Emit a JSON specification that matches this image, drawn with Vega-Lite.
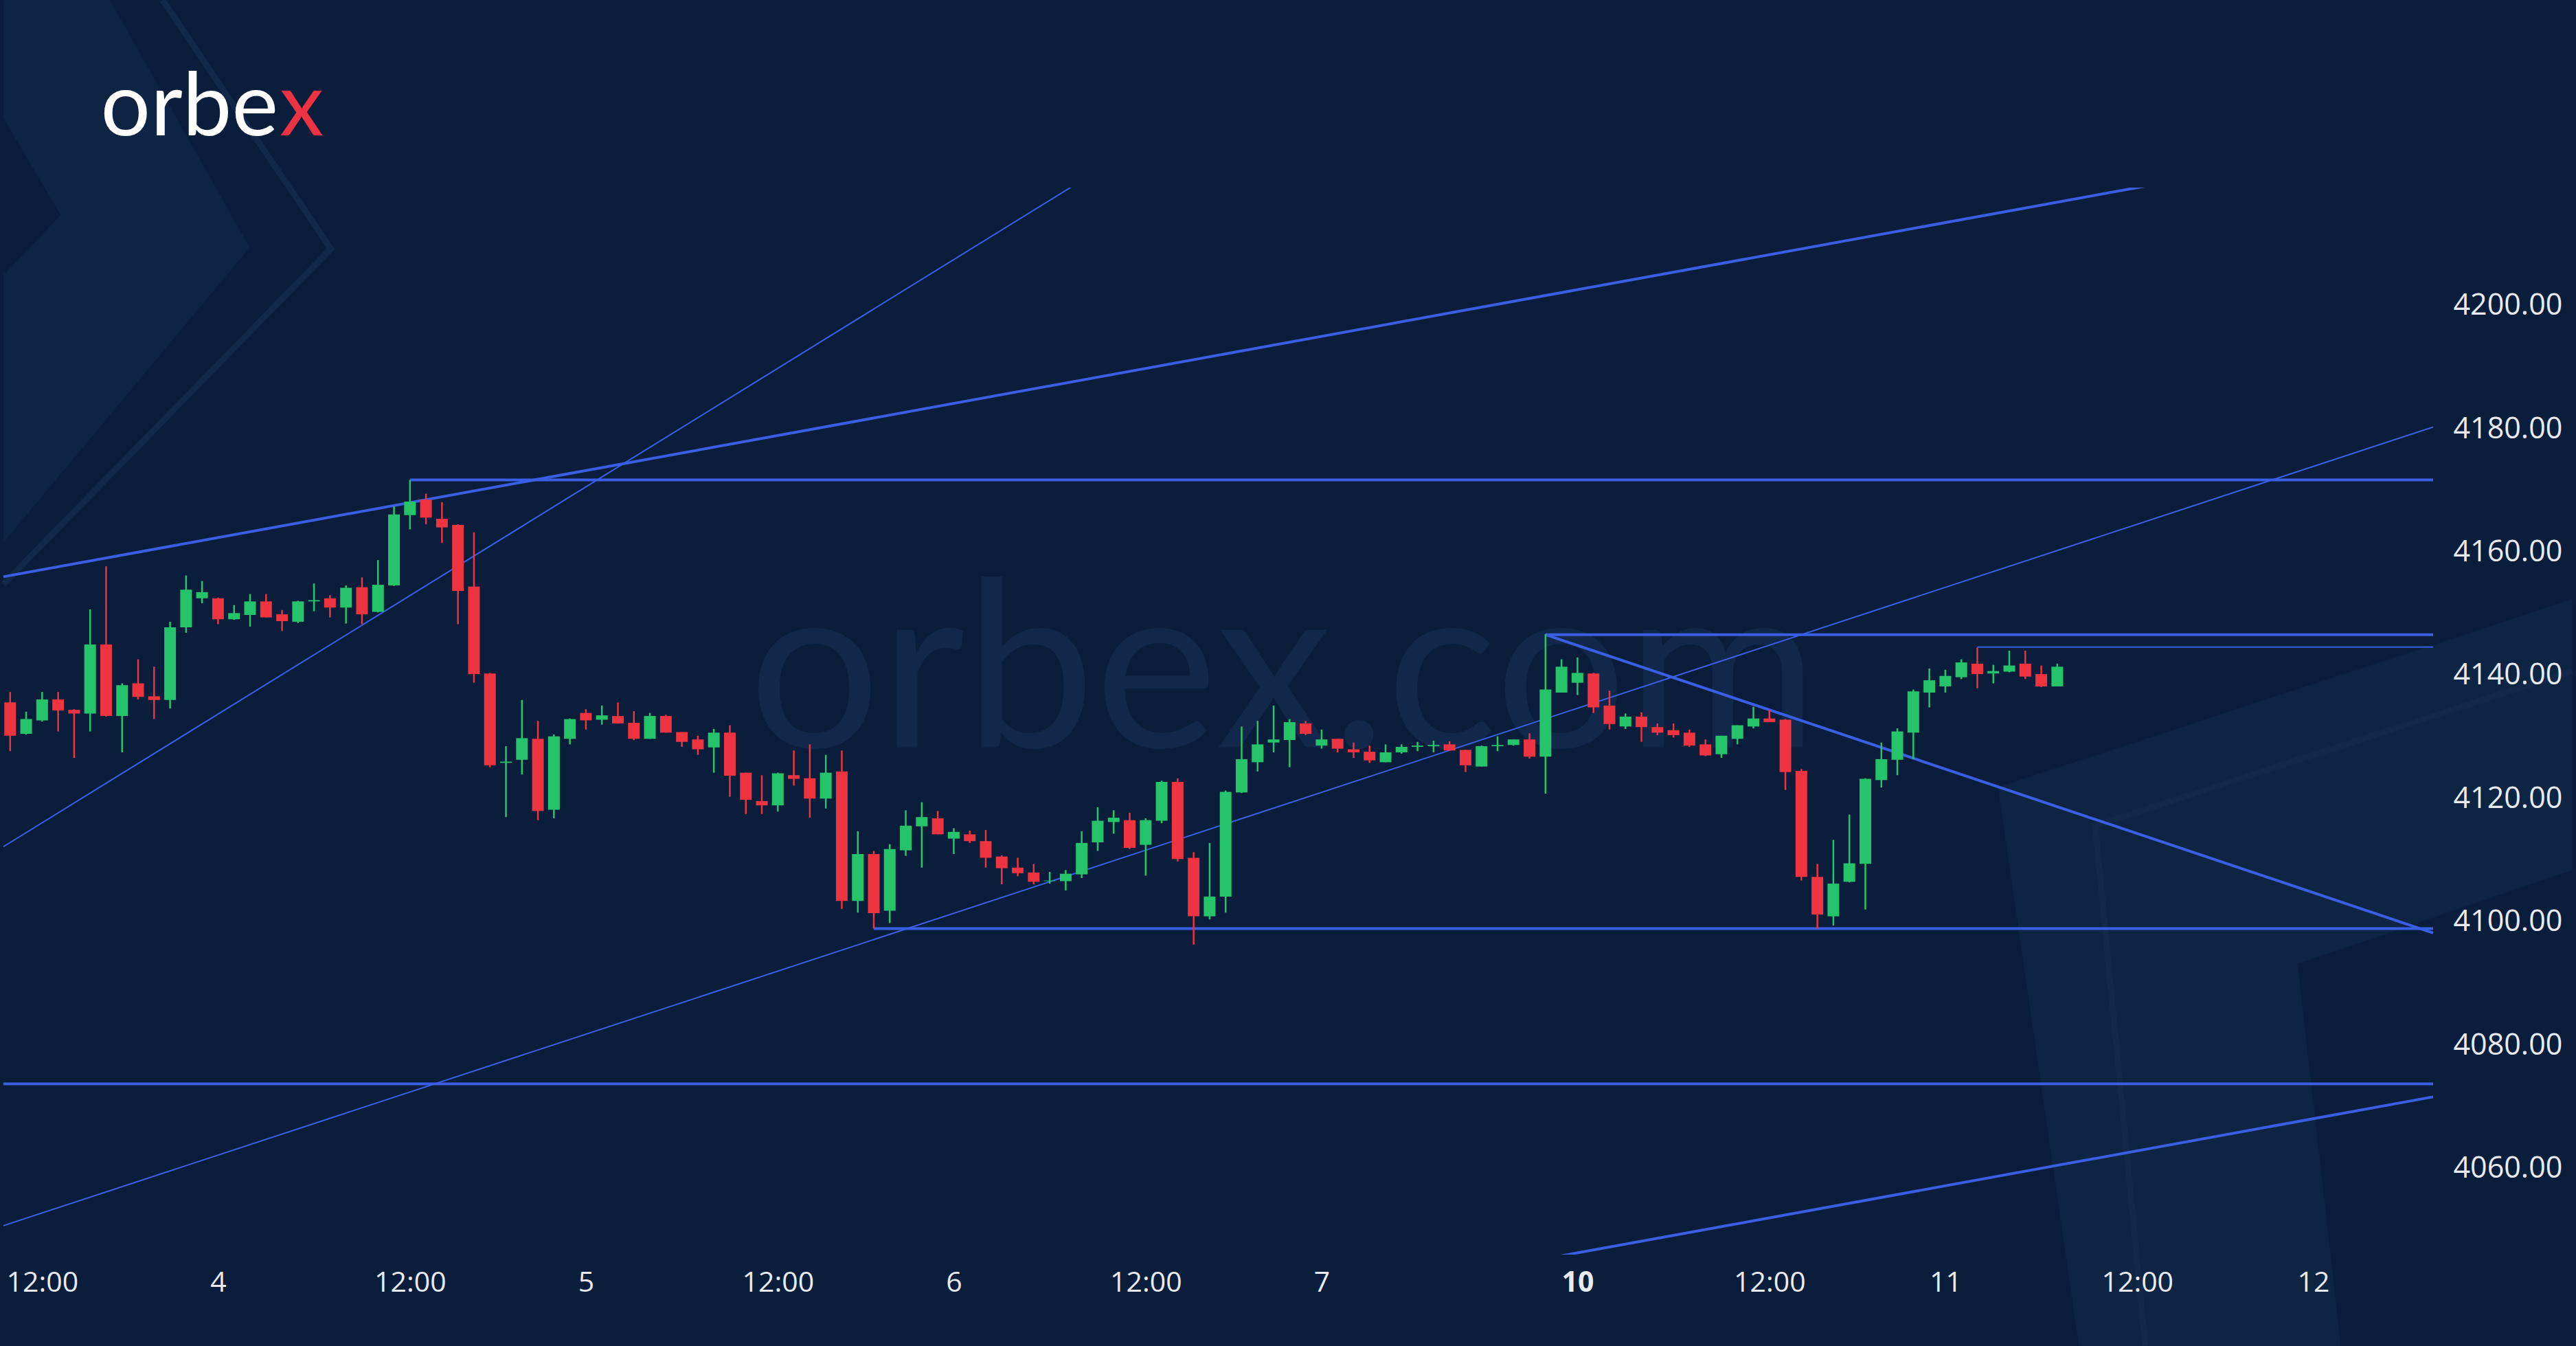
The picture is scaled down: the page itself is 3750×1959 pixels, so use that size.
{
  "$schema": "https://vega.github.io/schema/vega-lite/v6.json",
  "width": 3547,
  "height": 1553,
  "autosize": {"type": "none"},
  "padding": {"left": 0, "top": 273, "right": 203, "bottom": 133},
  "background": "#0a1e3b",
  "config": {"view": {"stroke": null}},
  "datasets": {
    "candles": [
      {"n":0,"o":4135.6,"h":4137.3,"l":4127.7,"c":4130.2},
      {"n":1,"o":4130.5,"h":4134.1,"l":4130.4,"c":4132.9},
      {"n":2,"o":4132.7,"h":4137.3,"l":4132.5,"c":4136.1},
      {"n":3,"o":4136.1,"h":4137.3,"l":4130.9,"c":4134.3},
      {"n":4,"o":4134.4,"h":4134.5,"l":4126.6,"c":4133.8},
      {"n":5,"o":4133.8,"h":4150.7,"l":4130.9,"c":4145.0},
      {"n":6,"o":4145.0,"h":4157.7,"l":4133.3,"c":4133.4},
      {"n":7,"o":4133.4,"h":4138.7,"l":4127.5,"c":4138.4},
      {"n":8,"o":4138.7,"h":4142.6,"l":4136.1,"c":4136.5},
      {"n":9,"o":4136.6,"h":4141.4,"l":4132.9,"c":4136.0},
      {"n":10,"o":4136.0,"h":4148.7,"l":4134.6,"c":4147.8},
      {"n":11,"o":4147.8,"h":4156.2,"l":4146.9,"c":4153.9},
      {"n":12,"o":4152.5,"h":4155.3,"l":4151.7,"c":4153.5},
      {"n":13,"o":4152.5,"h":4152.6,"l":4148.3,"c":4149.1},
      {"n":14,"o":4149.1,"h":4151.4,"l":4149.0,"c":4150.1},
      {"n":15,"o":4149.8,"h":4153.2,"l":4147.9,"c":4152.0},
      {"n":16,"o":4152.0,"h":4153.2,"l":4149.4,"c":4149.4},
      {"n":17,"o":4149.9,"h":4150.6,"l":4147.2,"c":4148.8},
      {"n":18,"o":4148.7,"h":4152.1,"l":4148.5,"c":4152.0},
      {"n":19,"o":4152.0,"h":4154.9,"l":4150.4,"c":4152.2},
      {"n":20,"o":4152.5,"h":4153.0,"l":4149.4,"c":4151.0},
      {"n":21,"o":4151.0,"h":4154.6,"l":4148.4,"c":4154.2},
      {"n":22,"o":4154.3,"h":4155.9,"l":4148.3,"c":4149.9},
      {"n":23,"o":4150.3,"h":4158.7,"l":4150.2,"c":4154.7},
      {"n":24,"o":4154.6,"h":4167.4,"l":4154.5,"c":4166.1},
      {"n":25,"o":4166.0,"h":4171.7,"l":4163.7,"c":4168.2},
      {"n":26,"o":4168.5,"h":4169.5,"l":4164.5,"c":4165.6},
      {"n":27,"o":4165.4,"h":4168.1,"l":4161.5,"c":4164.0},
      {"n":28,"o":4164.4,"h":4164.5,"l":4148.3,"c":4153.7},
      {"n":29,"o":4154.4,"h":4163.2,"l":4138.8,"c":4140.2},
      {"n":30,"o":4140.3,"h":4140.4,"l":4125.1,"c":4125.4},
      {"n":31,"o":4125.8,"h":4128.5,"l":4117.0,"c":4126.0},
      {"n":32,"o":4126.3,"h":4136.0,"l":4123.9,"c":4129.8},
      {"n":33,"o":4129.7,"h":4132.6,"l":4116.5,"c":4118.0},
      {"n":34,"o":4118.2,"h":4130.4,"l":4116.8,"c":4130.1},
      {"n":35,"o":4129.7,"h":4133.0,"l":4128.8,"c":4132.9},
      {"n":36,"o":4133.9,"h":4134.5,"l":4131.2,"c":4132.7},
      {"n":37,"o":4132.8,"h":4135.1,"l":4132.0,"c":4133.5},
      {"n":38,"o":4133.4,"h":4135.6,"l":4132.2,"c":4132.2},
      {"n":39,"o":4132.3,"h":4134.2,"l":4129.5,"c":4129.7},
      {"n":40,"o":4129.7,"h":4133.9,"l":4129.7,"c":4133.4},
      {"n":41,"o":4133.4,"h":4133.6,"l":4130.7,"c":4130.7},
      {"n":42,"o":4130.8,"h":4130.8,"l":4128.4,"c":4129.2},
      {"n":43,"o":4129.6,"h":4130.2,"l":4127.1,"c":4128.0},
      {"n":44,"o":4128.3,"h":4131.3,"l":4124.2,"c":4130.7},
      {"n":45,"o":4130.7,"h":4131.9,"l":4120.3,"c":4123.7},
      {"n":46,"o":4124.2,"h":4124.2,"l":4117.5,"c":4119.8},
      {"n":47,"o":4119.6,"h":4123.8,"l":4117.5,"c":4118.9},
      {"n":48,"o":4118.9,"h":4124.2,"l":4117.9,"c":4124.1},
      {"n":49,"o":4123.8,"h":4127.8,"l":4122.1,"c":4123.2},
      {"n":50,"o":4123.3,"h":4128.8,"l":4116.9,"c":4120.0},
      {"n":51,"o":4120.0,"h":4127.1,"l":4118.4,"c":4124.2},
      {"n":52,"o":4124.4,"h":4127.8,"l":4102.1,"c":4103.4},
      {"n":53,"o":4103.4,"h":4114.7,"l":4101.5,"c":4111.0},
      {"n":54,"o":4111.0,"h":4111.5,"l":4098.9,"c":4101.4},
      {"n":55,"o":4101.8,"h":4112.6,"l":4099.8,"c":4111.8},
      {"n":56,"o":4111.6,"h":4118.1,"l":4110.7,"c":4115.6},
      {"n":57,"o":4115.5,"h":4119.4,"l":4108.8,"c":4117.0},
      {"n":58,"o":4116.8,"h":4118.0,"l":4114.2,"c":4114.2},
      {"n":59,"o":4113.5,"h":4115.2,"l":4111.0,"c":4114.6},
      {"n":60,"o":4114.2,"h":4114.8,"l":4112.8,"c":4113.1},
      {"n":61,"o":4113.1,"h":4114.9,"l":4108.8,"c":4110.4},
      {"n":62,"o":4110.6,"h":4110.8,"l":4106.1,"c":4108.7},
      {"n":63,"o":4108.8,"h":4110.4,"l":4107.4,"c":4107.9},
      {"n":64,"o":4108.0,"h":4109.4,"l":4106.1,"c":4106.5},
      {"n":65,"o":4106.6,"h":4108.1,"l":4106.2,"c":4106.7},
      {"n":66,"o":4106.6,"h":4108.4,"l":4105.1,"c":4107.8},
      {"n":67,"o":4107.7,"h":4114.7,"l":4107.1,"c":4112.8},
      {"n":68,"o":4112.9,"h":4118.6,"l":4111.5,"c":4116.4},
      {"n":69,"o":4116.2,"h":4118.1,"l":4114.3,"c":4116.9},
      {"n":70,"o":4116.5,"h":4117.7,"l":4111.8,"c":4112.0},
      {"n":71,"o":4112.5,"h":4116.8,"l":4107.5,"c":4116.5},
      {"n":72,"o":4116.4,"h":4122.9,"l":4116.0,"c":4122.7},
      {"n":73,"o":4122.7,"h":4123.3,"l":4109.8,"c":4110.2},
      {"n":74,"o":4110.4,"h":4111.3,"l":4096.3,"c":4100.9},
      {"n":75,"o":4100.9,"h":4112.8,"l":4100.4,"c":4104.1},
      {"n":76,"o":4104.1,"h":4121.3,"l":4101.5,"c":4121.1},
      {"n":77,"o":4121.0,"h":4131.7,"l":4120.9,"c":4126.4},
      {"n":78,"o":4125.9,"h":4132.6,"l":4124.4,"c":4128.8},
      {"n":79,"o":4129.1,"h":4135.1,"l":4127.5,"c":4129.6},
      {"n":80,"o":4129.5,"h":4132.9,"l":4125.1,"c":4132.4},
      {"n":81,"o":4132.2,"h":4132.6,"l":4130.3,"c":4130.5},
      {"n":82,"o":4128.6,"h":4131.2,"l":4128.1,"c":4129.6},
      {"n":83,"o":4129.7,"h":4129.7,"l":4127.5,"c":4128.1},
      {"n":84,"o":4128.0,"h":4129.1,"l":4126.6,"c":4127.5},
      {"n":85,"o":4127.6,"h":4128.6,"l":4125.8,"c":4126.2},
      {"n":86,"o":4125.9,"h":4128.8,"l":4125.9,"c":4127.5},
      {"n":87,"o":4127.5,"h":4128.8,"l":4127.3,"c":4128.4},
      {"n":88,"o":4128.4,"h":4129.2,"l":4127.7,"c":4128.6},
      {"n":89,"o":4128.5,"h":4129.4,"l":4127.5,"c":4128.7},
      {"n":90,"o":4128.8,"h":4129.3,"l":4127.8,"c":4127.8},
      {"n":91,"o":4127.9,"h":4127.9,"l":4124.3,"c":4125.4},
      {"n":92,"o":4125.2,"h":4128.6,"l":4125.2,"c":4128.5},
      {"n":93,"o":4128.5,"h":4130.1,"l":4127.7,"c":4128.7},
      {"n":94,"o":4128.7,"h":4129.6,"l":4128.6,"c":4129.6},
      {"n":95,"o":4129.6,"h":4130.6,"l":4126.5,"c":4126.8},
      {"n":96,"o":4126.8,"h":4146.7,"l":4120.8,"c":4137.7},
      {"n":97,"o":4137.2,"h":4142.6,"l":4137.2,"c":4141.4},
      {"n":98,"o":4138.8,"h":4142.9,"l":4136.8,"c":4140.4},
      {"n":99,"o":4140.3,"h":4140.4,"l":4133.9,"c":4134.8},
      {"n":100,"o":4135.1,"h":4137.5,"l":4131.2,"c":4132.1},
      {"n":101,"o":4131.7,"h":4133.8,"l":4131.3,"c":4133.3},
      {"n":102,"o":4133.3,"h":4134.0,"l":4129.2,"c":4131.6},
      {"n":103,"o":4131.6,"h":4132.2,"l":4130.3,"c":4130.7},
      {"n":104,"o":4131.1,"h":4132.2,"l":4129.9,"c":4130.3},
      {"n":105,"o":4130.7,"h":4131.2,"l":4128.4,"c":4128.6},
      {"n":106,"o":4128.8,"h":4129.6,"l":4126.9,"c":4127.0},
      {"n":107,"o":4127.2,"h":4130.2,"l":4126.6,"c":4130.2},
      {"n":108,"o":4129.7,"h":4131.9,"l":4128.8,"c":4131.9},
      {"n":109,"o":4131.7,"h":4134.9,"l":4131.4,"c":4133.0},
      {"n":110,"o":4133.0,"h":4134.4,"l":4132.4,"c":4132.4},
      {"n":111,"o":4132.8,"h":4132.9,"l":4121.4,"c":4124.3},
      {"n":112,"o":4124.5,"h":4124.8,"l":4106.7,"c":4107.3},
      {"n":113,"o":4107.3,"h":4109.4,"l":4098.9,"c":4101.2},
      {"n":114,"o":4100.9,"h":4113.3,"l":4099.4,"c":4106.2},
      {"n":115,"o":4106.5,"h":4117.4,"l":4106.4,"c":4109.5},
      {"n":116,"o":4109.4,"h":4123.3,"l":4102.0,"c":4123.2},
      {"n":117,"o":4123.0,"h":4129.1,"l":4121.8,"c":4126.4},
      {"n":118,"o":4126.3,"h":4131.4,"l":4123.8,"c":4130.9},
      {"n":119,"o":4130.7,"h":4137.7,"l":4126.4,"c":4137.4},
      {"n":120,"o":4137.2,"h":4141.1,"l":4134.8,"c":4139.2},
      {"n":121,"o":4138.2,"h":4140.9,"l":4137.2,"c":4139.9},
      {"n":122,"o":4139.7,"h":4142.6,"l":4139.4,"c":4142.1},
      {"n":123,"o":4141.9,"h":4144.5,"l":4137.9,"c":4140.2},
      {"n":124,"o":4140.3,"h":4141.7,"l":4138.7,"c":4140.7},
      {"n":125,"o":4140.6,"h":4144.0,"l":4140.5,"c":4141.6},
      {"n":126,"o":4141.9,"h":4144.0,"l":4139.4,"c":4139.8},
      {"n":127,"o":4140.2,"h":4141.6,"l":4138.1,"c":4138.2},
      {"n":128,"o":4138.2,"h":4141.9,"l":4138.2,"c":4141.4}
    ],
    "thick": [
      {"id":"L1","n":-0.42,"p":4156.0},{"id":"L1","n":151.5,"p":4227.9},
      {"id":"L3","n":25,"p":4171.7},{"id":"L3","n":151.5,"p":4171.7},
      {"id":"L5","n":96,"p":4146.6},{"id":"L5","n":151.5,"p":4146.6},
      {"id":"L7","n":96,"p":4146.6},{"id":"L7","n":151.5,"p":4098.2},
      {"id":"L8","n":54,"p":4098.9},{"id":"L8","n":151.5,"p":4098.9},
      {"id":"L9","n":-0.42,"p":4073.7},{"id":"L9","n":151.5,"p":4073.7},
      {"id":"L10","n":90,"p":4042.5},{"id":"L10","n":151.5,"p":4071.6}
    ],
    "thin": [
      {"id":"L2","n":-0.42,"p":4112.2},{"id":"L2","n":70,"p":4225.1},
      {"id":"L4","n":-0.42,"p":4050.7},{"id":"L4","n":151.5,"p":4180.3},
      {"id":"L6","n":123,"p":4144.6},{"id":"L6","n":151.5,"p":4144.6}
    ],
    "deco": [
      {"shape":"A","k":0,"n":-0.42,"p":4249.6},
      {"shape":"A","k":1,"n":6.22,"p":4249.6},
      {"shape":"A","k":2,"n":14.96,"p":4209.4},
      {"shape":"A","k":3,"n":-0.42,"p":4161.6},
      {"shape":"B","k":0,"n":-0.42,"p":4230.3},
      {"shape":"B","k":1,"n":3.14,"p":4214.7},
      {"shape":"B","k":2,"n":-0.42,"p":4205.0},
      {"shape":"D","k":0,"n":124.29,"p":4121.8},
      {"shape":"D","k":1,"n":160.18,"p":4152.3},
      {"shape":"D","k":2,"n":160.18,"p":4108.4},
      {"shape":"D","k":3,"n":143.01,"p":4093.2},
      {"shape":"D","k":4,"n":145.71,"p":4031.2},
      {"shape":"D","k":5,"n":129.35,"p":4031.2}
    ],
    "decoLines": [
      {"shape":"C","k":0,"n":9.52,"p":4249.6},
      {"shape":"C","k":1,"n":20.05,"p":4209.2},
      {"shape":"C","k":2,"n":-0.42,"p":4154.8},
      {"shape":"E","k":0,"n":133.5,"p":4031.2},
      {"shape":"E","k":1,"n":130.37,"p":4115.6},
      {"shape":"E","k":2,"n":160.18,"p":4140.7}
    ]
  },
  "layer": [
    {
      "data": {"name": "deco"},
      "transform": [{"filter": "datum.shape === 'A' || datum.shape === 'D'"}],
      "mark": {"type": "line", "fill": "#0e2443", "stroke": "#0e2443", "strokeWidth": 1, "clip": false},
      "encoding": {
        "x": {"field": "n", "type": "quantitative", "title": null, "scale": {"domain": [-0.42, 151.5], "nice": false, "zero": false}},
        "y": {"field": "p", "type": "quantitative", "title": null, "scale": {"domain": [4046.0, 4219.15], "nice": false, "zero": false}},
        "detail": {"field": "shape"},
        "order": {"field": "k"}
      }
    },
    {
      "data": {"name": "deco"},
      "transform": [{"filter": "datum.shape === 'B'"}],
      "mark": {"type": "line", "fill": "#0a1e3b", "stroke": "#0a1e3b", "strokeWidth": 1, "clip": false},
      "encoding": {
        "x": {"field": "n", "type": "quantitative", "title": null, "scale": {"domain": [-0.42, 151.5], "nice": false, "zero": false}},
        "y": {"field": "p", "type": "quantitative", "title": null, "scale": {"domain": [4046.0, 4219.15], "nice": false, "zero": false}},
        "order": {"field": "k"}
      }
    },
    {
      "data": {"name": "decoLines"},
      "mark": {"type": "line", "stroke": "#112849", "strokeWidth": 9, "clip": false},
      "encoding": {
        "x": {"field": "n", "type": "quantitative", "title": null, "scale": {"domain": [-0.42, 151.5], "nice": false, "zero": false}},
        "y": {"field": "p", "type": "quantitative", "title": null, "scale": {"domain": [4046.0, 4219.15], "nice": false, "zero": false}},
        "detail": {"field": "shape"},
        "order": {"field": "k"}
      }
    },
    {
      "data": {"values": [{"t": "orbex.com"}]},
      "mark": {"type": "text", "font": "Lato", "fontSize": 338, "fontWeight": 400, "color": "#11284a", "align": "center", "baseline": "alphabetic"},
      "encoding": {
        "text": {"field": "t"},
        "x": {"datum": 79.6, "type": "quantitative", "title": null, "scale": {"domain": [-0.42, 151.5], "nice": false, "zero": false}},
        "y": {"datum": 4128.3, "type": "quantitative", "title": null, "scale": {"domain": [4046.0, 4219.15], "nice": false, "zero": false}}
      }
    },
    {
      "data": {"values": [{"t": "orbe"}]},
      "mark": {"type": "text", "font": "Lato", "fontSize": 128, "fontWeight": 400, "color": "#ffffff", "align": "left", "baseline": "alphabetic"},
      "encoding": {
        "text": {"field": "t"},
        "x": {"datum": 5.66, "type": "quantitative", "title": null, "scale": {"domain": [-0.42, 151.5], "nice": false, "zero": false}},
        "y": {"datum": 4227.6, "type": "quantitative", "title": null, "scale": {"domain": [4046.0, 4219.15], "nice": false, "zero": false}}
      }
    },
    {
      "data": {"values": [{"t": "x"}]},
      "mark": {"type": "text", "font": "Lato", "fontSize": 128, "fontWeight": 400, "color": "#ec3344", "align": "right", "baseline": "alphabetic"},
      "encoding": {
        "text": {"field": "t"},
        "x": {"datum": 19.6, "type": "quantitative", "title": null, "scale": {"domain": [-0.42, 151.5], "nice": false, "zero": false}},
        "y": {"datum": 4227.6, "type": "quantitative", "title": null, "scale": {"domain": [4046.0, 4219.15], "nice": false, "zero": false}}
      }
    },
    {
      "data": {"name": "thick"},
      "mark": {"type": "line", "stroke": "#3a5fe5", "strokeWidth": 4, "clip": true},
      "encoding": {
        "x": {"field": "n", "type": "quantitative", "title": null, "scale": {"domain": [-0.42, 151.5], "nice": false, "zero": false}},
        "y": {"field": "p", "type": "quantitative", "title": null, "scale": {"domain": [4046.0, 4219.15], "nice": false, "zero": false}},
        "detail": {"field": "id"}
      }
    },
    {
      "data": {"name": "thin"},
      "mark": {"type": "line", "stroke": "#3a5fe5", "strokeWidth": 2, "clip": true},
      "encoding": {
        "x": {"field": "n", "type": "quantitative", "title": null, "scale": {"domain": [-0.42, 151.5], "nice": false, "zero": false}},
        "y": {"field": "p", "type": "quantitative", "title": null, "scale": {"domain": [4046.0, 4219.15], "nice": false, "zero": false}},
        "detail": {"field": "id"}
      }
    },
    {
      "data": {"name": "candles"},
      "mark": {"type": "rule", "strokeWidth": 2.5},
      "encoding": {
        "x": {
          "field": "n", "type": "quantitative", "title": null,
          "scale": {"domain": [-0.42, 151.5], "nice": false, "zero": false},
          "axis": {
            "values": [2, 13, 25, 36, 48, 59, 71, 82, 98, 110, 121, 133, 144],
            "labelExpr": "datum.value == 13 ? '4' : datum.value == 36 ? '5' : datum.value == 59 ? '6' : datum.value == 82 ? '7' : datum.value == 98 ? '10' : datum.value == 121 ? '11' : datum.value == 144 ? '12' : '12:00'",
            "domain": false, "ticks": false, "tickSize": 0, "grid": false, "zindex": 2,
            "labelFont": "Open Sans", "labelFontSize": 41, "labelColor": "#e8ebf1",
            "labelFontWeight": {"condition": {"test": "datum.value == 98", "value": "bold"}, "value": "normal"},
            "labelPadding": 21, "labelOverlap": false, "labelFlush": false, "labelBound": false
          }
        },
        "y": {
          "field": "l", "type": "quantitative", "title": null,
          "scale": {"domain": [4046.0, 4219.15], "nice": false, "zero": false},
          "axis": {
            "orient": "right",
            "values": [4060, 4080, 4100, 4120, 4140, 4160, 4180, 4200],
            "format": ".2f",
            "domain": false, "ticks": false, "tickSize": 0, "grid": false, "zindex": 2,
            "labelFont": "Open Sans", "labelFontSize": 43, "labelColor": "#e8ebf1",
            "labelPadding": 24, "labelOverlap": false, "labelFlush": false, "labelBound": false
          }
        },
        "y2": {"field": "h"},
        "color": {"condition": {"test": "datum.c >= datum.o", "value": "#26c46a"}, "value": "#ee3341"}
      }
    },
    {
      "data": {"name": "candles"},
      "mark": {"type": "bar", "size": 17, "orient": "vertical"},
      "encoding": {
        "x": {"field": "n", "type": "quantitative", "title": null, "scale": {"domain": [-0.42, 151.5], "nice": false, "zero": false}},
        "y": {"field": "o", "type": "quantitative", "title": null, "scale": {"domain": [4046.0, 4219.15], "nice": false, "zero": false}},
        "y2": {"field": "c"},
        "color": {"condition": {"test": "datum.c >= datum.o", "value": "#26c46a"}, "value": "#ee3341"}
      }
    }
  ]
}
